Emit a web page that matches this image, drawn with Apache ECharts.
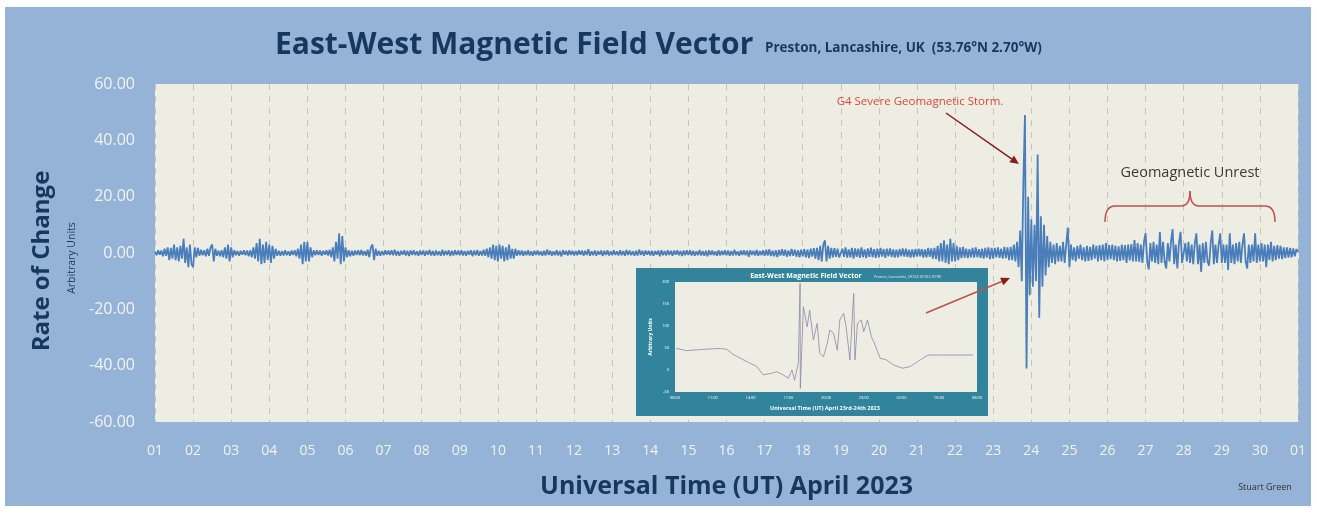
<!DOCTYPE html>
<html><head><meta charset="utf-8">
<script src="https://cdn.jsdelivr.net/npm/echarts@6/dist/echarts.min.js"></script>
<style>html,body{margin:0;padding:0;background:#fff;}#c{width:1317px;height:514px;}</style>
</head><body><div id="c"></div>
<script>
// ---------- DATA ----------
// X tick labels (day of month, boundary at 00:00 UT)
const dayLabels = ['01','02','03','04','05','06','07','08','09','10','11','12','13','14','15',
  '16','17','18','19','20','21','22','23','24','25','26','27','28','29','30','01'];
// Rate of change, one reading every hour (24 per day), April 2023
const apr01 = [0.5,-0.8,1,-0.6,0.9,-1.2,1.5,-1,2,-2.5,1.8,-2,3,-2.5,2,-3,2.5,-2,5,-3.5,2,-5,3,-4];
const apr02 = [-5,2,-1.5,1.8,-1,1.2,-0.8,1,-1.2,1.5,-1,2,3,-3,1.5,-1,0.8,-1.2,1,-1.5,2,-2,3,-3];
const apr03 = [2,-1.5,1,-0.8,0.7,-1,0.8,-0.6,1,-0.8,0.9,-1.2,1,-1.5,2,-2,3.5,-3,5,-4,3,-3.5,4,-2.5];
const apr04 = [3,-3.5,2.5,-2,1.5,-1,0.8,-1,0.7,-0.9,1,-0.8,0.6,-1,0.9,-0.7,1,-1.2,1.5,-2,3,-4,4,-3];
const apr05 = [4,-3,2,-1.5,1,-0.8,1,-0.7,0.9,-1,0.8,-0.6,1,-0.9,1.2,-1.5,2,-3,4,-2,7,-4,6,-3];
const apr06 = [2,-1.5,1,-1.2,0.8,-1,0.9,-0.7,1,-0.8,1.1,-0.9,0.7,-1,1.2,-1.5,2,3,-2.5,1.5,-1,0.8,-1,0.7];
const apr07 = [-0.8,1,-0.6,0.9,-0.7,1,-0.8,1.2,-0.9,0.7,-1,0.8,-0.6,1,-0.9,0.8,-1.1,0.9,-0.7,1,-0.8,0.6,-1,0.9];
const apr08 = [-0.7,0.9,-1,0.8,-0.6,1.1,-0.9,0.7,-1,0.9,-0.8,0.6,-1,1.2,-0.9,0.8,-0.7,1,-1.1,0.8,-0.9,1,-0.7,0.9];
const apr09 = [-0.8,1,-0.9,0.7,-1,0.8,-0.6,1,-1.2,0.9,-0.8,1.1,-1,0.7,-0.9,1.2,-1,1.5,-1.5,2,-2,3,-2.5,2.5];
const apr10 = [-3,3,-2,2.5,-3,2,-2.5,3,-2,1.5,-2,1.5,-1,1,-0.8,0.9,-1,0.7,-0.8,1,-0.9,0.6,-1,0.8];
const apr11 = [-0.7,0.9,-0.8,0.6,-1,0.8,-0.9,1.2,-0.7,0.8,-1,0.6,-0.8,1,-0.9,0.7,-1.2,1,-0.6,0.8,-0.9,1,-0.7,0.8];
const apr12 = [-0.9,0.7,-0.8,1,-0.6,0.9,-1,0.8,-0.7,1.3,-1,0.6,-0.8,0.9,-1,0.7,-0.6,0.9,-1.1,0.8,-0.7,1,-0.9,0.6];
const apr13 = [-0.8,1,-0.7,0.6,-0.9,1,-0.8,0.7,-1,1.1,-0.7,0.9,-0.8,0.6,-1,0.8,-0.9,1.2,-0.7,0.8,-1,0.9,-0.6,0.8];
const apr14 = [-0.9,0.8,-1,0.7,-0.6,0.9,-1.2,1,-0.8,0.7,-0.9,1,-0.7,0.8,-1,0.9,-0.6,1,-0.8,0.7,-1.1,0.9,-0.8,1];
const apr15 = [-0.7,1,-0.9,0.8,-1,0.6,-0.8,1.1,-0.9,0.7,-1,0.8,-1.2,1,-0.7,0.9,-0.8,0.6,-1,1,-0.9,0.8,-0.7,1];
const apr16 = [-0.8,0.9,-1,0.7,-0.9,1.2,-0.8,0.6,-1,0.9,-0.7,1,-0.8,0.9,-1.3,1,-0.7,0.8,-0.9,1.1,-1,0.7,-0.8,1];
const apr17 = [-1,1.2,-0.9,1.3,-1.1,0.8,-1.2,1,-1.4,1.1,-0.9,1.3,-1,1.2,-1.3,0.9,-1.1,1.4,-1,1.2,-1.3,1,-1.5,1.2];
const apr18 = [-1.2,1.4,-1.5,1.2,-1.8,1.5,-1.3,1.7,-2,1.8,-2.5,2.5,-3,3,4.5,-3,2.5,-2,1.8,-1.5,1.7,-1.4,1.5,-1.6];
const apr19 = [-1.8,1.5,-1.4,2,-1.6,1.3,-1.5,1.8,-2,1.6,-1.4,1.5,-1.7,2,-1.5,1.3,-1.8,1.6,-1.4,1.9,-1.5,1.4,-1.7,1.5];
const apr20 = [-1.5,1.8,-1.3,1.4,-1.7,1.5,-1.2,1.6,-1.4,1.3,-1.6,1.2,-1.5,1.4,-1.2,1.6,-1.3,1.5,-1.4,1.2,-1.6,1.3,-1.5,1.4];
const apr21 = [-1.3,1.5,-1.2,1.4,-1.6,1.3,-1.5,1.8,-1.4,1.6,-2,1.8,-2.2,2.5,-3,3.5,-3,4.5,-3.5,3,-4,5,-3,3.5];
const apr22 = [-3,2.5,-2.5,2,-1.8,2.2,-1.6,1.5,-1.8,1.4,-1.5,1.8,-1.6,2,-1.5,1.4,-1.7,1.5,-2,1.8,-1.6,2,-2.2,1.8];
const apr23 = [-2,1.8,-1.5,2,-1.7,1.5,-2,2.2,-1.8,2,-2.5,2.2,-2.5,3,-3,4,-5,8,-10,25,49,-41,20,-15];
const apr24 = [12,-12,10,-10,35,-23,13,-12,10,-8,6,-5,4,-3.5,3,-4,3.5,-3,2.5,-3,4,-3.5,3,9];
const apr25 = [-5,3,-2.5,2,-3,2.5,-2,3,-2.5,2,-3,2.5,-2.8,2.2,-2.5,3,-2,2.5,-3,2.8,-2.5,3,-3,3.5];
const apr26 = [-2.5,2.8,-2.2,3,-2.5,2.6,-3,2.4,-2.8,3,-2.5,2.8,-3.5,3,-2.6,3.2,-3,4.6,-3,3.5,-3.2,3,-3.5,4];
const apr27 = [7,-3,-5.8,3.5,-3,4,-3.5,3,-4,7.4,-3.5,4,-3,-5.5,3.5,-3,4,8.5,-4,3,-5.5,3.5,7.5,-3.5];
const apr28 = [-4,3.5,-3,4,-3.5,3,-4,3.5,7,-4,3,-6.7,3.5,-3.5,4,-3,-4.5,3.5,8,-4,3,-3.5,3,7];
const apr29 = [-3.5,3,-3.5,3,-6,7,-3.5,3,-4,3.5,-3,4,-3.5,3,7,-3,-5.5,3,-3.5,3,-3,7,-3.5,3];
const apr30 = [-3,3.5,-3,3,-5,3,-2.5,4,-3,2.5,-2.5,2.8,-2,2.5,-2.2,2,-1.8,2,-1.6,1.8,-1.5,1.6,-1.2,1.4];
const may01 = [0.3];
const aprilDays = [apr01,apr02,apr03,apr04,apr05,apr06,apr07,apr08,apr09,apr10,apr11,apr12,apr13,apr14,apr15,
  apr16,apr17,apr18,apr19,apr20,apr21,apr22,apr23,apr24,apr25,apr26,apr27,apr28,apr29,apr30,may01];
const readingsPerDay = 24;

// Inset chart: hours from start of window and value (arbitrary units)
const insetHours = [0.1,0.9,2.3,3.6,4.1,4.6,5.7,6.5,7.0,7.6,8.1,8.6,9.0,9.3,9.5,9.8,9.94,9.96,10.2,10.5,10.7,11.0,
  11.3,11.5,11.8,12.1,12.3,12.6,12.9,13.1,13.4,13.6,13.9,14.2,14.3,14.5,14.8,15.0,15.3,15.6,15.8,16.1,16.3,16.8,
  17.4,18.1,18.7,19.5,20.1,21.1,22.1,23.7];
const insetValues = [49,44,47,49,47,36,19,8,-11,-8,-4,-11,-19,0,-23,15,197,-42,144,98,136,68,
  106,38,30,61,91,83,45,114,129,98,23,174,23,106,114,87,114,76,64,42,27,23,
  11,4,8,23,34,34,34,34];
const insetTimeLabels = ['08:00','11:00','14:00','17:00','20:00','23:00','02:00','05:00','08:00'];

// ---------- BUILD ----------
const mainData = [];
aprilDays.forEach((day, d) => {
  day.forEach((v, i) => mainData.push([d + i / readingsPerDay, v]));
});
const insetData = insetHours.map((h, i) => [h, insetValues[i]]);

const FONT = "'Open Sans', 'Noto Sans', sans-serif";
const NAVY = '#17375e';

function arrow(x1, y1, x2, y2, color, w, head) {
  const a = Math.atan2(y2 - y1, x2 - x1);
  const bx = x2 - head * Math.cos(a), by = y2 - head * Math.sin(a);
  const px = Math.sin(a) * head * 0.45, py = -Math.cos(a) * head * 0.45;
  return [
    {type: 'line', z: 20, shape: {x1, y1, x2: bx, y2: by}, style: {stroke: color, lineWidth: w}},
    {type: 'polygon', z: 20, shape: {points: [[x2, y2], [bx + px, by + py], [bx - px, by - py]]}, style: {fill: '#8b1c1c'}}
  ];
}

const BR = '#c0504d';
const graphics = [
  {type: 'rect', z: -10, shape: {x: 5, y: 7, width: 1306, height: 499}, style: {fill: '#95b3d7'}},
  {type: 'text', z: 20, x: 275, y: 45, style: {text: 'East-West Magnetic Field Vector', font: 'bold 30px ' + FONT, fill: NAVY, verticalAlign: 'middle'}},
  {type: 'text', z: 20, x: 765, y: 48, style: {text: 'Preston, Lancashire, UK  (53.76°N 2.70°W)', font: 'bold 13.5px ' + FONT, fill: NAVY, verticalAlign: 'middle'}},
  {type: 'text', z: 20, x: 42, y: 261, rotation: Math.PI / 2, style: {text: 'Rate of Change', font: 'bold 24px ' + FONT, fill: NAVY, align: 'center', verticalAlign: 'middle'}},
  {type: 'text', z: 20, x: 72, y: 258, rotation: Math.PI / 2, style: {text: 'Arbitrary Units', font: '10.5px ' + FONT, fill: NAVY, align: 'center', verticalAlign: 'middle'}},
  {type: 'text', z: 20, x: 1265, y: 487, style: {text: 'Stuart Green', font: '9px ' + FONT, fill: '#333333', align: 'center', verticalAlign: 'middle'}},
  {type: 'text', z: 20, x: 920, y: 102, style: {text: 'G4 Severe Geomagnetic Storm.', font: '11.5px ' + FONT, fill: '#e0463c', align: 'center', verticalAlign: 'middle'}},
  {type: 'text', z: 20, x: 1190, y: 173, style: {text: 'Geomagnetic Unrest', font: '14.5px ' + FONT, fill: '#3a3a3a', align: 'center', verticalAlign: 'middle'}},
  // brace
  {type: 'bezierCurve', z: 20, shape: {x1: 1105, y1: 222, x2: 1115, y2: 206, cpx1: 1105, cpy1: 206}, style: {stroke: BR, lineWidth: 1.5, fill: null}},
  {type: 'line', z: 20, shape: {x1: 1115, y1: 206, x2: 1181, y2: 206}, style: {stroke: BR, lineWidth: 1.5}},
  {type: 'bezierCurve', z: 20, shape: {x1: 1181, y1: 206, x2: 1190, y2: 191, cpx1: 1190, cpy1: 206}, style: {stroke: BR, lineWidth: 1.5, fill: null}},
  {type: 'bezierCurve', z: 20, shape: {x1: 1190, y1: 191, x2: 1199, y2: 206, cpx1: 1190, cpy1: 206}, style: {stroke: BR, lineWidth: 1.5, fill: null}},
  {type: 'line', z: 20, shape: {x1: 1199, y1: 206, x2: 1265, y2: 206}, style: {stroke: BR, lineWidth: 1.5}},
  {type: 'bezierCurve', z: 20, shape: {x1: 1265, y1: 206, x2: 1275, y2: 222, cpx1: 1275, cpy1: 206}, style: {stroke: BR, lineWidth: 1.5, fill: null}},
  // inset frame
  {type: 'rect', z: 5, shape: {x: 636, y: 268, width: 352, height: 148}, style: {fill: '#31849b'}},
  {type: 'text', z: 20, x: 806, y: 276, style: {text: 'East-West Magnetic Field Vector', font: 'bold 7px ' + FONT, fill: '#ffffff', align: 'center', verticalAlign: 'middle'}},
  {type: 'text', z: 20, x: 874, y: 277, style: {text: 'Preston, Lancashire, UK (53.76°N 2.70°W)', font: '3.5px ' + FONT, fill: '#e8f0f4', verticalAlign: 'middle'}},
  {type: 'text', z: 20, x: 825, y: 408, style: {text: 'Universal Time (UT) April 23rd-24th 2023', font: 'bold 5.5px ' + FONT, fill: '#ffffff', align: 'center', verticalAlign: 'middle'}},
  {type: 'text', z: 20, x: 651, y: 337, rotation: Math.PI / 2, style: {text: 'Arbitrary Units', font: 'bold 5px ' + FONT, fill: '#ffffff', align: 'center', verticalAlign: 'middle'}}
].concat(arrow(946, 113, 1019, 164, '#8b1c1c', 1.5, 9))
 .concat(arrow(926, 313, 1010, 278, '#c0504d', 1.5, 9));

const option = {
  backgroundColor: '#ffffff',
  animation: false,
  graphic: graphics,
  grid: [
    {left: 155, right: 19, top: 84, bottom: 92, show: true, backgroundColor: '#eeede3', borderWidth: 0, z: 0},
    {left: 675, top: 282, width: 302, height: 110, show: true, backgroundColor: '#eeede3', borderWidth: 0, z: 6}
  ],
  xAxis: [
    {type: 'value', gridIndex: 0, min: 0, max: 30, interval: 1,
     name: 'Universal Time (UT) April 2023', nameLocation: 'middle', nameGap: 52,
     nameTextStyle: {fontFamily: FONT, fontWeight: 'bold', fontSize: 25, color: NAVY},
     axisLine: {show: false},
     axisTick: {show: true, length: 6, lineStyle: {color: '#dfe6ef'}},
     axisLabel: {margin: 22, color: '#f1f4f8', fontFamily: FONT, fontSize: 14, formatter: v => dayLabels[Math.round(v)]},
     splitLine: {show: true, lineStyle: {color: '#c4c4bc', type: [6, 6], width: 1}}},
    {type: 'value', gridIndex: 1, min: 0, max: 24, interval: 3, z: 6,
     axisLine: {show: false}, axisTick: {show: false},
     axisLabel: {margin: 4, color: '#ffffff', fontFamily: FONT, fontSize: 4, formatter: v => insetTimeLabels[Math.round(v / 3)]},
     splitLine: {show: false}}
  ],
  yAxis: [
    {type: 'value', gridIndex: 0, min: -60, max: 60, interval: 20,
     axisLine: {show: false}, axisTick: {show: false},
     axisLabel: {margin: 20, color: '#f1f4f8', fontFamily: FONT, fontSize: 16, formatter: v => v.toFixed(2)},
     splitLine: {show: false}},
    {type: 'value', gridIndex: 1, min: -50, max: 200, interval: 50, z: 6,
     axisLine: {show: false}, axisTick: {show: false},
     axisLabel: {margin: 6, color: '#ffffff', fontFamily: FONT, fontSize: 4, formatter: v => v.toFixed(0)},
     splitLine: {show: false}}
  ],
  series: [
    {type: 'line', xAxisIndex: 0, yAxisIndex: 0, data: mainData, showSymbol: false, z: 3,
     lineStyle: {color: '#4a7ebb', width: 1.8}, emphasis: {disabled: true}},
    {type: 'line', xAxisIndex: 1, yAxisIndex: 1, data: insetData, showSymbol: false, z: 7,
     lineStyle: {color: '#8a88a8', width: 0.8}, emphasis: {disabled: true}}
  ]
};
const chart = echarts.init(document.getElementById('c'), null, {renderer: 'canvas'});
chart.setOption(option);
</script></body></html>
